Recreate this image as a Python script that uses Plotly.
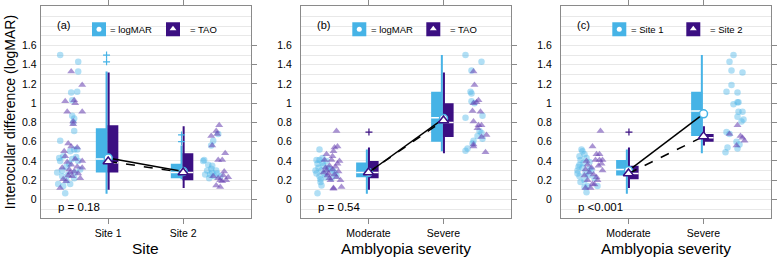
import plotly.graph_objects as go

FONT = "Liberation Sans"
BLUE = "#46B3E6"
DARK = "#3B0F82"
JIT_BLUE = "rgba(70,179,230,0.42)"
JIT_DARK = "rgba(100,60,175,0.55)"
FRAME = "#8A8A8A"
GRID = "#E8E8E8"

cat_pos = [1, 2]
y_tickvals = [0, 0.2, 0.4, 0.6, 0.8, 1, 1.2, 1.4, 1.6]
y_ticktext = ["0", "0.2", "0.4", "0.6", "0.8", "1", "1.2", "1.4", "1.6"]
y_title = "Interocular difference (logMAR)"

# ---------------- panel (a) ----------------
a_tag = "(a)"
a_xtitle = "Site"
a_categories = ["Site 1", "Site 2"]
a_groups = ["logMAR", "TAO"]
# [lower whisker, q1, median, q3, upper whisker] per category
a_g1_box = [[0.06, 0.28, 0.42, 0.74, 1.33], [0.21, 0.22, 0.28, 0.37, 0.56]]
a_g2_box = [[0.10, 0.28, 0.38, 0.77, 1.32], [0.12, 0.20, 0.28, 0.48, 0.76]]
a_g1_out = [[1.43, 1.50], [0.60, 0.67]]
a_g2_out = [[], []]
a_g1_mean = [0.43, 0.29]
a_g2_mean = [0.395, 0.28]
a_p = "p = 0.18"
a_g1_c1_y = [1.50, 1.43, 1.33, 1.11, 1.12, 1.03, 0.87, 0.84, 0.80, 0.71, 0.61, 0.52, 0.52, 0.43, 0.45, 0.37, 0.28,
             0.30, 0.28, 0.31, 0.16, 0.16, 0.065, 0.24, 0.20, 0.42, 0.40, 0.34, 0.40, 0.26, 0.14, 0.22, 0.50, 0.44]
a_g1_c1_dx = [-48, -30, -30, -37, -31, -36, -36, -34, -35, -34, -48, -34, -31, -49, -45, -39, -51,
              -46, -33, -28, -50, -38, -43, -46, -42, -36, -30, -42, -48, -40, -45, -34, -38, -32]
a_g2_c1_y = [1.33, 1.19, 1.02, 1.03, 1.00, 0.91, 0.91, 0.81, 0.78, 0.58, 0.55, 0.54, 0.50, 0.40, 0.39, 0.36,
             0.33, 0.31, 0.21, 0.34, 0.29, 0.12, 0.25, 0.27, 0.45, 0.42, 0.24, 0.22, 0.33, 0.28, 0.19]
a_g2_c1_dx = [-37, -26, -43, -34, -33, -41, -26, -35, -35, -40, -37, -31, -44, -26, -41, -37,
              -26, -39, -45, -31, -34, -48, -40, -30, -43, -33, -36, -28, -46, -38, -42]
a_g1_c2_y = [0.61, 0.56, 0.68, 0.41, 0.36, 0.35, 0.32, 0.30, 0.26, 0.26, 0.24, 0.24, 0.30, 0.28, 0.22, 0.27, 0.40]
a_g1_c2_dx = [30, 28, 35, 21, 25, 29, 28, 33, 27, 22, 31, 37, 24, 29, 26, 34, 20]
a_g2_c2_y = [0.77, 0.71, 0.66, 0.68, 0.56, 0.48, 0.41, 0.41, 0.29, 0.23, 0.20, 0.19, 0.145, 0.13, 0.25, 0.24,
             0.20, 0.22]
a_g2_c2_dx = [36, 33, 28, 34, 29, 42, 35, 39, 41, 45, 37, 39, 33, 37, 40, 30, 43, 35]

# ---------------- panel (b) ----------------
b_tag = "(b)"
b_xtitle = "Amblyopia severity"
b_categories = ["Moderate", "Severe"]
b_groups = ["logMAR", "TAO"]
b_g1_box = [[0.06, 0.23, 0.28, 0.385, 0.52], [0.50, 0.60, 0.85, 1.12, 1.50]]
b_g2_box = [[0.10, 0.22, 0.28, 0.40, 0.54], [0.48, 0.65, 0.80, 1.00, 1.32]]
b_g1_out = [[], []]
b_g2_out = [[0.70], []]
b_g1_mean = [0.28, 0.84]
b_g2_mean = [0.28, 0.82]
b_p = "p = 0.54"
b_g1_c1_y = [0.52, 0.41, 0.41, 0.38, 0.37, 0.30, 0.27, 0.27, 0.24, 0.23, 0.18, 0.145, 0.065, 0.33, 0.28, 0.25,
             0.32, 0.43, 0.33, 0.22, 0.40, 0.30, 0.35, 0.30, 0.21]
b_g1_c1_dx = [-49, -52, -49, -46, -51, -47, -52, -44, -49, -43, -48, -47, -51, -41, -34, -32,
              -39, -46, -50, -37, -42, -53, -45, -36, -48]
b_g2_c1_y = [0.71, 0.55, 0.54, 0.50, 0.47, 0.45, 0.41, 0.41, 0.40, 0.35, 0.37, 0.30, 0.31, 0.29, 0.25, 0.26,
             0.20, 0.20, 0.12, 0.13, 0.11, 0.33, 0.34, 0.27, 0.23, 0.28, 0.22]
b_g2_c1_dx = [-32, -31, -34, -35, -42, -36, -44, -37, -29, -39, -31, -42, -36, -30, -41, -34,
              -38, -28, -35, -27, -35, -43, -33, -40, -32, -45, -39]
b_g1_c2_y = [1.50, 1.43, 1.34, 1.12, 1.10, 1.02, 1.00, 0.85, 0.87, 0.71, 0.69, 0.63, 0.61, 0.58, 0.53, 0.505, 0.66]
b_g1_c2_dx = [22, 38, 28, 27, 28, 28, 31, 22, 39, 36, 38, 39, 30, 29, 24, 22, 34]
b_g2_c2_y = [1.33, 1.19, 1.03, 1.01, 1.00, 0.92, 0.91, 0.81, 0.77, 0.77, 0.67, 0.65, 0.57, 0.55, 0.49, 0.74]
b_g2_c2_dx = [30, 31, 35, 33, 30, 29, 37, 30, 35, 38, 43, 38, 30, 30, 42, 34]

# ---------------- panel (c) ----------------
c_tag = "(c)"
c_xtitle = "Amblyopia severity"
c_categories = ["Moderate", "Severe"]
c_groups = ["Site 1", "Site 2"]
c_g1_box = [[0.06, 0.25, 0.31, 0.41, 0.52], [0.48, 0.66, 0.92, 1.12, 1.50]]
c_g2_box = [[0.12, 0.21, 0.27, 0.35, 0.54], [0.56, 0.60, 0.64, 0.68, 0.76]]
c_g1_out = [[], []]
c_g2_out = [[0.70], []]
c_g1_mean = [0.30, 0.89]
c_g2_mean = [0.27, 0.655]
c_p = "p <0.001"
c_g1_c1_y = [0.52, 0.50, 0.45, 0.47, 0.41, 0.43, 0.39, 0.30, 0.33, 0.36, 0.27, 0.24, 0.25, 0.18, 0.27, 0.20,
             0.13, 0.14, 0.075, 0.14, 0.30, 0.38, 0.22, 0.32, 0.34]
c_g1_c1_dx = [-47, -46, -49, -44, -48, -42, -39, -51, -46, -49, -43, -49, -40, -48, -51, -44,
              -44, -41, -42, -31, -37, -45, -34, -39, -50]
c_g2_c1_y = [0.71, 0.55, 0.47, 0.47, 0.41, 0.41, 0.41, 0.40, 0.36, 0.33, 0.31, 0.30, 0.26, 0.20, 0.20, 0.12,
             0.12, 0.16, 0.155, 0.28, 0.35, 0.25, 0.23, 0.37]
c_g2_c1_dx = [-28, -36, -32, -29, -33, -29, -26, -42, -41, -37, -43, -26, -35, -41, -31, -43,
              -38, -36, -34, -39, -30, -44, -32, -27]
c_g1_c2_y = [1.50, 1.43, 1.34, 1.32, 1.19, 1.12, 1.11, 0.99, 1.01, 1.01, 0.91, 0.91, 0.86, 0.81, 0.70, 0.68,
             0.60, 0.57, 0.54, 0.49, 0.53, 0.83]
c_g1_c2_dx = [30, 26, 28, 39, 28, 23, 34, 30, 34, 35, 35, 39, 34, 38, 23, 26, 33, 36, 24, 22, 34, 40]
c_g2_c2_y = [0.77, 0.68, 0.66, 0.64, 0.61, 0.56]
c_g2_c2_dx = [34, 26, 37, 39, 41, 33]

panels = [
    dict(tag=a_tag, xtitle=a_xtitle, cats=a_categories, groups=a_groups, box1=a_g1_box, box2=a_g2_box,
         out1=a_g1_out, out2=a_g2_out, mean1=a_g1_mean, mean2=a_g2_mean, p=a_p,
         jit=[(0, 1, a_g1_c1_y, a_g1_c1_dx), (0, 2, a_g2_c1_y, a_g2_c1_dx),
              (1, 1, a_g1_c2_y, a_g1_c2_dx), (1, 2, a_g2_c2_y, a_g2_c2_dx)]),
    dict(tag=b_tag, xtitle=b_xtitle, cats=b_categories, groups=b_groups, box1=b_g1_box, box2=b_g2_box,
         out1=b_g1_out, out2=b_g2_out, mean1=b_g1_mean, mean2=b_g2_mean, p=b_p,
         jit=[(0, 1, b_g1_c1_y, b_g1_c1_dx), (0, 2, b_g2_c1_y, b_g2_c1_dx),
              (1, 1, b_g1_c2_y, b_g1_c2_dx), (1, 2, b_g2_c2_y, b_g2_c2_dx)]),
    dict(tag=c_tag, xtitle=c_xtitle, cats=c_categories, groups=c_groups, box1=c_g1_box, box2=c_g2_box,
         out1=c_g1_out, out2=c_g2_out, mean1=c_g1_mean, mean2=c_g2_mean, p=c_p,
         jit=[(0, 1, c_g1_c1_y, c_g1_c1_dx), (0, 2, c_g2_c1_y, c_g2_c1_dx),
              (1, 1, c_g1_c2_y, c_g1_c2_dx), (1, 2, c_g2_c2_y, c_g2_c2_dx)]),
]

W, H = 780, 258
PX_PER_UNIT = 75.0
X_RANGE = [0.1, 2.9]
Y_RANGE = [-0.196, 2.01]
x_domains = [[40.7 / W, 250.7 / W], [301 / W, 511 / W], [561 / W, 771 / W]]
y_domain = [1 - 218 / H, 1 - 4 / H]

fig = go.Figure()
annotations = []
layout = {}

B1_OFF, B1_W = -0.165, 0.15
B2_OFF, B2_W = -0.01, 0.145
WH1, WH2 = -0.022, 0.006

def ypx(py):
    return (199 - py) / 97.0

for k, P in enumerate(panels):
    sfx = "" if k == 0 else str(k + 1)
    xa, ya = "x" + sfx, "y" + sfx
    common = dict(xaxis=xa, yaxis=ya, hoverinfo="skip", showlegend=False)

    # jittered raw points
    for ci, g, ys, dxs in P["jit"]:
        xs = [cat_pos[ci] + d / PX_PER_UNIT for d in dxs]
        if g == 1:
            mk = dict(symbol="circle", size=6.5, color=JIT_BLUE, line=dict(width=0))
        else:
            mk = dict(symbol="triangle-up", size=7, color=JIT_DARK, line=dict(width=0))
        fig.add_trace(go.Scatter(x=xs, y=ys, mode="markers", marker=mk, **common))

    # boxes
    for box, off, wid, col in [(P["box1"], B1_OFF, B1_W, BLUE), (P["box2"], B2_OFF, B2_W, DARK)]:
        fig.add_trace(go.Bar(x=cat_pos, y=[b[3] - b[1] for b in box], base=[b[1] for b in box],
                             width=wid, offset=off, marker=dict(color=col, line=dict(width=0)), **common))
    # whiskers
    for box, wx, col in [(P["box1"], WH1, BLUE), (P["box2"], WH2, DARK)]:
        xs, ys = [], []
        for p, b in zip(cat_pos, box):
            xs += [p + wx, p + wx, None]
            ys += [b[0], b[4], None]
        fig.add_trace(go.Scatter(x=xs, y=ys, mode="lines", line=dict(color=col, width=2), **common))
    # medians
    for box, off, wid in [(P["box1"], B1_OFF, B1_W), (P["box2"], B2_OFF, B2_W)]:
        xs, ys = [], []
        for p, b in zip(cat_pos, box):
            xs += [p + off, p + off + wid, None]
            ys += [b[2], b[2], None]
        fig.add_trace(go.Scatter(x=xs, y=ys, mode="lines", line=dict(color="white", width=1.5), **common))
    # outliers
    for outs, wx, col in [(P["out1"], WH1, BLUE), (P["out2"], WH2, DARK)]:
        xs, ys = [], []
        for p, o in zip(cat_pos, outs):
            xs += [p + wx] * len(o)
            ys += o
        if xs:
            fig.add_trace(go.Scatter(x=xs, y=ys, mode="markers",
                                     marker=dict(symbol="cross-thin", size=5, line=dict(color=col, width=1.2)),
                                     **common))
    # means
    fig.add_trace(go.Scatter(x=cat_pos, y=P["mean1"], mode="lines+markers",
                             line=dict(color="black", width=1.5),
                             marker=dict(symbol="circle", size=8, color="white", line=dict(color=BLUE, width=1.5)),
                             **common))
    fig.add_trace(go.Scatter(x=cat_pos, y=P["mean2"], mode="lines+markers",
                             line=dict(color="black", width=1.5, dash="dash"),
                             marker=dict(symbol="triangle-up", size=9, color="white", line=dict(color=DARK, width=1.5)),
                             **common))

    # legend key squares
    x0 = X_RANGE[0]
    ly = ypx(27.5)
    sq1x = x0 + 58.3 / PX_PER_UNIT
    sq2x = x0 + 132.3 / PX_PER_UNIT
    fig.add_trace(go.Scatter(x=[sq1x, sq2x], y=[ly, ly], mode="markers",
                             marker=dict(symbol="square", size=14, color=[BLUE, DARK], line=dict(width=0)),
                             cliponaxis=False, **common))
    fig.add_trace(go.Scatter(x=[sq1x], y=[ly], mode="markers",
                             marker=dict(symbol="circle", size=5, color="white", line=dict(width=0)),
                             cliponaxis=False, **common))
    fig.add_trace(go.Scatter(x=[sq2x], y=[ly + 0.005], mode="markers",
                             marker=dict(symbol="triangle-up", size=6, color="white", line=dict(width=0)),
                             cliponaxis=False, **common))
    annotations.append(dict(x=x0 + 67.6 / PX_PER_UNIT, y=ly, xref=xa, yref=ya, text="= " + P["groups"][0],
                            showarrow=False, xanchor="left", yanchor="middle", font=dict(size=9.5, color="black")))
    annotations.append(dict(x=x0 + 147.3 / PX_PER_UNIT, y=ly, xref=xa, yref=ya, text="= " + P["groups"][1],
                            showarrow=False, xanchor="left", yanchor="middle", font=dict(size=9.5, color="black")))
    annotations.append(dict(x=x0 + 14.3 / PX_PER_UNIT, y=ypx(23.5), xref=xa, yref=ya, text=P["tag"],
                            showarrow=False, xanchor="left", yanchor="middle", font=dict(size=11, color="black")))
    annotations.append(dict(x=x0 + 15.3 / PX_PER_UNIT, y=ypx(206.7), xref=xa, yref=ya, text=P["p"],
                            showarrow=False, xanchor="left", yanchor="middle", font=dict(size=11.5, color="black")))
    # x-axis title
    annotations.append(dict(x=(x_domains[k][0] + x_domains[k][1]) / 2, y=1 - 248.5 / H, xref="paper", yref="paper",
                            text=P["xtitle"], showarrow=False, xanchor="center", yanchor="middle",
                            font=dict(size=15.5, color="black")))

    layout["xaxis" + sfx] = dict(domain=x_domains[k], range=X_RANGE, tickmode="array", tickvals=cat_pos,
                                 ticktext=P["cats"], ticks="outside", ticklen=5, tickcolor=FRAME, tickwidth=1,
                                 showline=True, linecolor=FRAME, linewidth=1, mirror="ticks", showgrid=False,
                                 zeroline=False, anchor=ya, tickfont=dict(size=10.5, color="black"),
                                 ticklabelstandoff=0, fixedrange=True)
    layout["yaxis" + sfx] = dict(domain=y_domain, range=Y_RANGE, tickmode="array", tickvals=y_tickvals,
                                 ticktext=y_ticktext, ticks="", showline=True, linecolor=FRAME, linewidth=1,
                                 mirror=True, showgrid=True, gridcolor=GRID, gridwidth=1, zeroline=False,
                                 minor=dict(tickmode="array", tickvals=[round(i * 0.1, 1) for i in range(-1, 21)],
                                            showgrid=True, gridcolor=GRID, gridwidth=1, ticks=""),
                                 anchor=xa, tickfont=dict(size=10.5, color="black"),
                                 ticklabelstandoff=(1 if k == 0 else 6), fixedrange=True)
    # right-side tick marks
    rk = str(k + 4)
    layout["yaxis" + rk] = dict(overlaying=ya, side="right", anchor=xa, range=Y_RANGE, tickmode="array",
                                tickvals=y_tickvals, ticks="outside", ticklen=5, tickcolor=FRAME,
                                showticklabels=False, showgrid=False, showline=False, zeroline=False,
                                fixedrange=True)
    fig.add_trace(go.Scatter(x=[1.5], y=[0.5], mode="markers", marker=dict(opacity=0), xaxis=xa,
                             yaxis="y" + rk, hoverinfo="skip", showlegend=False))

annotations.append(dict(x=10 / W, y=1 - 111 / H, xref="paper", yref="paper", text=y_title, textangle=-90,
                        showarrow=False, xanchor="center", yanchor="middle", font=dict(size=14, color="black")))

fig.update_layout(width=W, height=H, margin=dict(l=0, r=0, t=0, b=0), paper_bgcolor="white",
                  plot_bgcolor="white", barmode="overlay", showlegend=False,
                  font=dict(family=FONT, color="black"), annotations=annotations, **layout)

fig.write_html("out.html", config={"displayModeBar": False},
               post_script="document.body.style.margin='0';document.body.style.padding='0';")
